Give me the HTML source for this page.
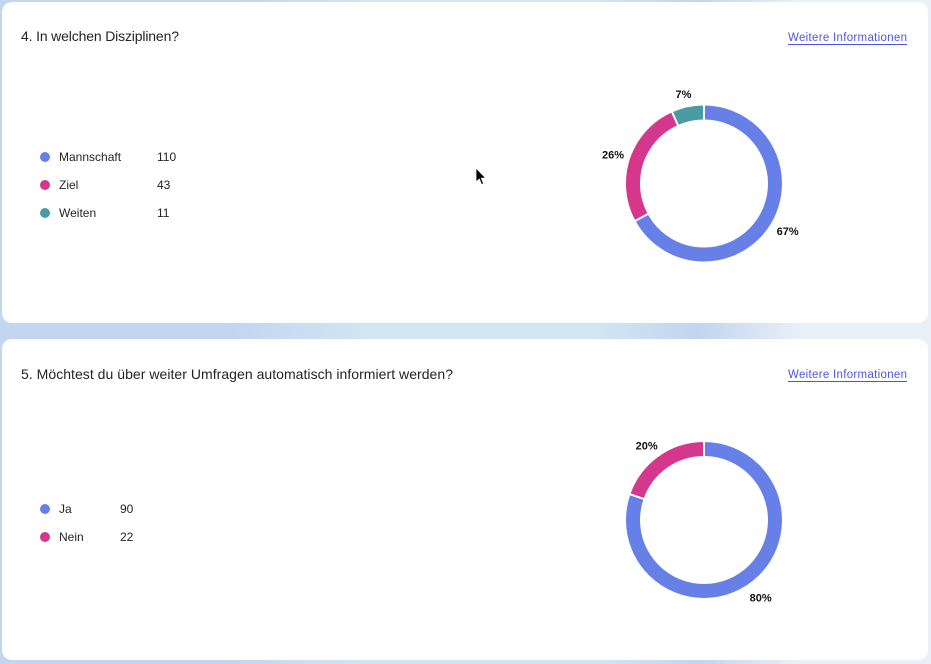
<!DOCTYPE html>
<html>
<head>
<meta charset="utf-8">
<style>
  html, body { margin:0; padding:0; }
  body {
    width:931px; height:664px; overflow:hidden;
    background: linear-gradient(90deg, #c1d6f0 0%, #c1d6f0 25%, #d0e7f3 40%, #d0e7f3 64%, #c1d5ef 75%, #e9f0f8 86%, #e9f0f8 100%);
    font-family: "Liberation Sans", Arial, sans-serif;
  }
  svg { display:block; }
</style>
</head>
<body>
<svg width="931" height="664" viewBox="0 0 931 664" xmlns="http://www.w3.org/2000/svg" font-family="Liberation Sans, Arial, sans-serif">
  <!-- Cards -->
  <rect x="2" y="2" width="926" height="321" rx="10" ry="10" fill="#ffffff"/>
  <rect x="2" y="339" width="926" height="321" rx="10" ry="10" fill="#ffffff"/>

  <!-- Card 1 header -->
  <text x="21" y="41" font-size="14" fill="#242424" textLength="158">4. In welchen Disziplinen?</text>
  <text x="788" y="41" font-size="11.5" fill="#4f55e0" textLength="119">Weitere Informationen</text>
  <line x1="788" y1="44.5" x2="907" y2="44.5" stroke="#4f55e0" stroke-width="1"/>

  <!-- Card 1 legend -->
  <circle cx="45" cy="157" r="5" fill="#6680e8"/>
  <text x="59" y="161" font-size="12" fill="#242424">Mannschaft</text>
  <text x="157" y="161" font-size="12" fill="#242424">110</text>
  <circle cx="45" cy="185" r="5" fill="#d4378c"/>
  <text x="59" y="189" font-size="12" fill="#242424">Ziel</text>
  <text x="157" y="189" font-size="12" fill="#242424">43</text>
  <circle cx="45" cy="213" r="5" fill="#4a9ca4"/>
  <text x="59" y="217" font-size="12" fill="#242424">Weiten</text>
  <text x="157" y="217" font-size="12" fill="#242424">11</text>

  <!-- Donut 1 -->
  <g transform="rotate(-90 704 183.5)" fill="none" stroke-width="14">
    <circle cx="704" cy="183.5" r="71" pathLength="360" stroke="#6680e8" stroke-dasharray="241.5 360" stroke-dashoffset="0"/>
    <circle cx="704" cy="183.5" r="71" pathLength="360" stroke="#d4378c" stroke-dasharray="94.4 360" stroke-dashoffset="-241.5"/>
    <circle cx="704" cy="183.5" r="71" pathLength="360" stroke="#4a9ca4" stroke-dasharray="24.1 360" stroke-dashoffset="-335.9"/>
  </g>
  <g stroke="#ffffff" stroke-width="2">
    <line x1="704" y1="121" x2="704" y2="103"/>
    <line x1="649.5" y1="213.1" x2="633.7" y2="221.7"/>
    <line x1="678.7" y1="126.9" x2="671.3" y2="110.5"/>
  </g>
  <text x="683.5" y="98" font-size="11" font-weight="bold" fill="#111" text-anchor="middle">7%</text>
  <text x="613" y="158.5" font-size="11" font-weight="bold" fill="#111" text-anchor="middle">26%</text>
  <text x="787.7" y="235" font-size="11" font-weight="bold" fill="#111" text-anchor="middle">67%</text>

  <!-- Card 2 header -->
  <text x="21" y="379" font-size="14" fill="#242424" textLength="432">5. Möchtest du über weiter Umfragen automatisch informiert werden?</text>
  <text x="788" y="378" font-size="11.5" fill="#4f55e0" textLength="119">Weitere Informationen</text>
  <line x1="788" y1="381.5" x2="907" y2="381.5" stroke="#4f55e0" stroke-width="1"/>

  <!-- Card 2 legend -->
  <circle cx="45" cy="509" r="5" fill="#6680e8"/>
  <text x="59" y="513" font-size="12" fill="#242424">Ja</text>
  <text x="120" y="513" font-size="12" fill="#242424">90</text>
  <circle cx="45" cy="537" r="5" fill="#d4378c"/>
  <text x="59" y="541" font-size="12" fill="#242424">Nein</text>
  <text x="120" y="541" font-size="12" fill="#242424">22</text>

  <!-- Donut 2 -->
  <g transform="rotate(-90 704 520)" fill="none" stroke-width="14">
    <circle cx="704" cy="520" r="71" pathLength="360" stroke="#6680e8" stroke-dasharray="289.3 360" stroke-dashoffset="0"/>
    <circle cx="704" cy="520" r="71" pathLength="360" stroke="#d4378c" stroke-dasharray="70.7 360" stroke-dashoffset="-289.3"/>
  </g>
  <g stroke="#ffffff" stroke-width="2">
    <line x1="704" y1="457.5" x2="704" y2="439.5"/>
    <line x1="645" y1="499.3" x2="628" y2="493.6"/>
  </g>
  <text x="646.7" y="449.3" font-size="11" font-weight="bold" fill="#111" text-anchor="middle">20%</text>
  <text x="760.7" y="601.7" font-size="11" font-weight="bold" fill="#111" text-anchor="middle">80%</text>

  <!-- Mouse cursor -->
  <path d="M476 168 L476 182 L479.3 179 L481.6 184.5 L483.6 183.6 L481.3 178.2 L485.6 178 Z" fill="#000" stroke="#fff" stroke-width="0.8" stroke-linejoin="round"/>
</svg>
</body>
</html>
